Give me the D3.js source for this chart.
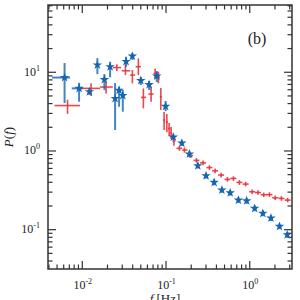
<!DOCTYPE html>
<html>
<head>
<meta charset="utf-8">
<script src="https://cdn.jsdelivr.net/npm/d3@7"></script>
<style>
    body { margin: 0; background: #fff; }
    text { font-family: "Liberation Serif", "DejaVu Serif", serif; fill: #222; }
    .tick line { stroke: #333; stroke-width: 1.2; }
</style>
</head>
<body>
<div id="chart"></div>
<script>
// blue series (stars)
const blueF    = [0.00623, 0.00929, 0.01233, 0.01536, 0.01862, 0.02179, 0.0250, 0.0279, 0.0309, 0.0338,
                  0.0402, 0.0507, 0.0637, 0.0787, 0.1002, 0.124, 0.1566, 0.193, 0.243, 0.305,
                  0.381, 0.471, 0.592, 0.743, 0.931, 1.16, 1.454, 1.815, 2.296, 2.84];
const blueP    = [8.44, 6.15, 5.57, 12.2, 7.96, 11.57, 4.57, 5.81, 4.99, 13.5,
                  15.8, 7.73, 6.87, 8.82, 3.63, 1.48, 1.24, 0.90, 0.64, 0.477,
                  0.393, 0.314, 0.290, 0.234, 0.2295, 0.1837, 0.1588, 0.1384, 0.1085, 0.0849];
const bluePLo  = [4.0, 4.16, 5.06, 9.35, 5.85, 8.49, 1.82, 3.59, 3.11, 11.57,
                  14.1, 6.78, 5.85, 7.39, 3.16, 1.36, 1.14, 0.83, 0.59, 0.44,
                  0.36, 0.29, 0.268, 0.215, 0.21, 0.169, 0.146, 0.127, 0.10, 0.078];
const bluePHi  = [12.9, 7.24, 6.21, 14.9, 9.35, 13.4, 7.18, 6.44, 5.85, 15.5,
                  17.3, 8.6, 7.62, 10.2, 4.25, 1.61, 1.35, 0.98, 0.70, 0.52,
                  0.43, 0.34, 0.315, 0.255, 0.25, 0.20, 0.173, 0.151, 0.118, 0.092];
const blueFLo  = [0.00442, 0.0076];
const blueFHi  = [0.00725, 0.01017];

// red series (crosses)
const redF   = [0.00676, 0.01291, 0.0195, 0.0262, 0.0332, 0.0402, 0.0474, 0.0544, 0.0673, 0.0751,
                0.0823, 0.0879, 0.0962, 0.1037, 0.1105, 0.1167, 0.126, 0.1466, 0.168, 0.197,
                0.234, 0.281, 0.3345, 0.3914, 0.4615, 0.549, 0.647, 0.763, 0.906, 1.083,
                1.27, 1.49, 1.742, 2.04, 2.42, 2.876];
const redP   = [3.72, 6.15, 6.40, 11.3, 10.3, 9.08, 11.6, 4.73, 5.21, 9.54,
                8.49, 4.81, 2.43, 2.30, 1.90, 1.66, 1.32, 1.064, 1.01, 0.861,
                0.748, 0.696, 0.607, 0.552, 0.487, 0.429, 0.442, 0.393, 0.374, 0.299,
                0.292, 0.2735, 0.275, 0.2505, 0.246, 0.234];
const redPLo = [2.92, 4.91, 5.31, 10.2, 9.08, 7.13, 9.08, 3.43, 4.16, 8.07,
                7.12, 3.26, 1.82, 1.71, 1.52, 1.40, 1.15, 0.99, 0.94, 0.80,
                0.70, 0.65, 0.565, 0.515, 0.455, 0.40, 0.41, 0.365, 0.35, 0.28,
                0.273, 0.256, 0.257, 0.235, 0.23, 0.22];
const redPHi = [4.41, 7.12, 7.46, 12.5, 12.2, 10.5, 14.8, 6.15, 6.44, 11.0,
                10.0, 6.21, 3.08, 2.90, 2.23, 1.98, 1.44, 1.145, 1.09, 0.925,
                0.80, 0.745, 0.65, 0.59, 0.52, 0.46, 0.47, 0.42, 0.40, 0.32,
                0.312, 0.292, 0.294, 0.267, 0.263, 0.25];
const redFLo = [0.00473, 0.00954, 0.01655, 0.02344, 0.03006, 0.0378, 0.0440, 0.0511, 0.0625, 0.0720,
                0.0790, 0.0855, 0.093, 0.1005, 0.107, 0.1135, 0.121, 0.135, 0.158, 0.183,
                0.216, 0.259, 0.308, 0.360, 0.425, 0.506, 0.596, 0.703, 0.834, 0.997,
                1.17, 1.37, 1.60, 1.88, 2.23, 2.65];
const redFHi = [0.00954, 0.01655, 0.02344, 0.02948, 0.0378, 0.0434, 0.0511, 0.0585, 0.0720, 0.0785,
                0.0855, 0.0905, 0.099, 0.107, 0.114, 0.120, 0.131, 0.158, 0.183, 0.214,
                0.254, 0.305, 0.363, 0.425, 0.501, 0.596, 0.703, 0.829, 0.984, 1.176,
                1.38, 1.62, 1.89, 2.22, 2.63, 3.12];

const xMajor = [0.01, 0.1, 1];
const xLabels = ["-2", "-1", "0"];
const yMajor = [0.1, 1, 10];
const yLabels = ["-1", "0", "1"];

const blueColor = "#1565b0";
const redColor = "#e8333b";

const margin = { top: 5, right: 8, bottom: 31, left: 48 };
const width = 300 - margin.left - margin.right;
const height = 300 - margin.top - margin.bottom;

const svg = d3.select("#chart").append("svg")
    .attr("width", 300)
    .attr("height", 300);

const chart = svg.append("g")
    .attr("transform", "translate(" + margin.left + "," + margin.top + ")");

const x = d3.scaleLog().domain([0.00395, 3.24]).range([0, width]);
const y = d3.scaleLog().domain([0.0312, 70.5]).range([height, 0]);

const xMinor = x.ticks().filter(v => !xMajor.some(m => Math.abs(m - v) < 1e-9));
const yMinor = y.ticks().filter(v => !yMajor.some(m => Math.abs(m - v) < 1e-9));

// ticks on all four sides, pointing inwards
function addTicks(axisFn, scale, vals, size, transform) {
    const g = chart.append("g")
        .attr("transform", transform)
        .call(axisFn(scale).tickValues(vals).tickSize(-size).tickFormat(""));
    g.select(".domain").remove();
}
addTicks(d3.axisBottom, x, xMajor, 8, "translate(0," + height + ")");
addTicks(d3.axisBottom, x, xMinor, 4.5, "translate(0," + height + ")");
addTicks(d3.axisTop, x, xMajor, 8, "translate(0,0)");
addTicks(d3.axisTop, x, xMinor, 4.5, "translate(0,0)");
addTicks(d3.axisLeft, y, yMajor, 8, "translate(0,0)");
addTicks(d3.axisLeft, y, yMinor, 4.5, "translate(0,0)");
addTicks(d3.axisRight, y, yMajor, 8, "translate(" + width + ",0)");
addTicks(d3.axisRight, y, yMinor, 4.5, "translate(" + width + ",0)");

// frame
chart.append("rect")
    .attr("width", width)
    .attr("height", height)
    .attr("fill", "none")
    .attr("stroke", "#333")
    .attr("stroke-width", 1.5);

// tick labels 10^n
xMajor.forEach((v, i) => {
    const t = chart.append("text")
        .attr("x", x(v) + 1)
        .attr("y", height + 20)
        .attr("text-anchor", "middle")
        .style("font-size", "12px");
    t.append("tspan").text("10");
    t.append("tspan").attr("dy", -5).style("font-size", "8px").text(xLabels[i]);
});
yMajor.forEach((v, i) => {
    const t = chart.append("text")
        .attr("x", -8)
        .attr("y", y(v) + 4)
        .attr("text-anchor", "end")
        .style("font-size", "12px");
    t.append("tspan").text("10");
    t.append("tspan").attr("dy", -5).style("font-size", "8px").text(yLabels[i]);
});

// axis titles
const xt = svg.append("text")
    .attr("x", 165)
    .attr("y", 303)
    .attr("text-anchor", "middle")
    .style("font-size", "13px");
xt.append("tspan").style("font-style", "italic").text("f");
xt.append("tspan").text(" [Hz]");

const yt = svg.append("text")
    .attr("transform", "translate(13,137) rotate(-90)")
    .attr("text-anchor", "middle")
    .style("font-size", "13px");
yt.append("tspan").style("font-style", "italic").text("P");
yt.append("tspan").text("(");
yt.append("tspan").style("font-style", "italic").text("f");
yt.append("tspan").text(")");

svg.append("text")
    .attr("x", 257)
    .attr("y", 44)
    .attr("text-anchor", "middle")
    .style("font-size", "16px")
    .text("(b)");

// red crosses with error bars
const red = redF.map((f, i) => ({ f, p: redP[i], pLo: redPLo[i], pHi: redPHi[i], fLo: redFLo[i], fHi: redFHi[i] }));
const redG = chart.append("g").attr("stroke", redColor).attr("stroke-width", 1.6).attr("stroke-opacity", 0.9);
redG.selectAll(".rv").data(red).enter().append("line")
    .attr("x1", d => x(d.f)).attr("x2", d => x(d.f))
    .attr("y1", d => y(d.pLo)).attr("y2", d => y(d.pHi));
redG.selectAll(".rh").data(red).enter().append("line")
    .attr("x1", d => x(d.fLo)).attr("x2", d => x(d.fHi))
    .attr("y1", d => y(d.p)).attr("y2", d => y(d.p));

// blue stars with error bars
const blue = blueF.map((f, i) => ({ f, p: blueP[i], pLo: bluePLo[i], pHi: bluePHi[i], fLo: blueFLo[i], fHi: blueFHi[i] }));
const blueG = chart.append("g").attr("stroke", blueColor).attr("stroke-width", 2).attr("stroke-opacity", 0.8);
blueG.selectAll(".bv").data(blue).enter().append("line")
    .attr("x1", d => x(d.f)).attr("x2", d => x(d.f))
    .attr("y1", d => y(d.pLo)).attr("y2", d => y(d.pHi));
blueG.selectAll(".bh").data(blue.filter(d => d.fLo)).enter().append("line")
    .attr("x1", d => x(d.fLo)).attr("x2", d => x(d.fHi))
    .attr("y1", d => y(d.p)).attr("y2", d => y(d.p));

chart.selectAll(".star").data(blue).enter().append("path")
    .attr("class", "star")
    .attr("transform", d => "translate(" + x(d.f) + "," + y(d.p) + ")")
    .attr("d", d3.symbol().type(d3.symbolStar).size(28))
    .attr("fill", blueColor);
</script>
</body>
</html>
